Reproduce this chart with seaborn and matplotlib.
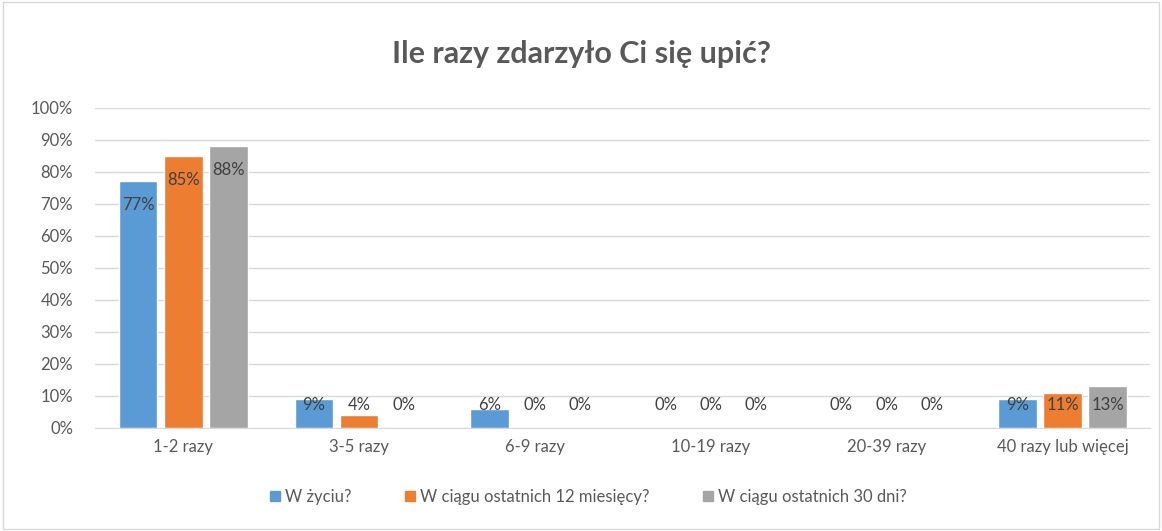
import pandas as pd
import numpy as np
import matplotlib.pyplot as plt
import seaborn as sns
from matplotlib.lines import Line2D

categories = ['1-2 razy', '3-5 razy', '6-9 razy', '10-19 razy', '20-39 razy', '40 razy lub więcej']
series = ['W życiu?', 'W ciągu ostatnich 12 miesięcy?', 'W ciągu ostatnich 30 dni?']
w_zyciu = [0.77, 0.09, 0.06, 0.0, 0.0, 0.09]
w_12_mies = [0.85, 0.04, 0.0, 0.0, 0.0, 0.11]
w_30_dni = [0.88, 0.0, 0.0, 0.0, 0.0, 0.13]
colors = ['#5B9BD5', '#ED7D31', '#A5A5A5']

df = pd.DataFrame({
    'kategoria': categories * 3,
    'seria': [series[0]] * 6 + [series[1]] * 6 + [series[2]] * 6,
    'wartosc': w_zyciu + w_12_mies + w_30_dni,
})

sns.set_style('white')
plt.rcParams['font.family'] = ['Lato', 'DejaVu Sans']
txt = '#595959'

fig = plt.figure(figsize=(11.62, 5.31), dpi=100)
ax = fig.add_axes([0.082, 0.194, 0.908, 0.603])
sns.barplot(data=df, x='kategoria', y='wartosc', hue='seria', palette=colors,
            saturation=1, width=0.77, gap=0.14, ax=ax, legend=False, zorder=3)

ax.set_ylim(0, 1.0)
ax.set_yticks(np.arange(0, 1.01, 0.1))
ax.set_yticklabels([f'{int(round(t * 100))}%' for t in np.arange(0, 1.01, 0.1)])
ax.grid(axis='y', color='#D9D9D9', linewidth=1, zorder=0)
ax.set_xlabel('')
ax.set_ylabel('')
for s in ['top', 'right', 'left']:
    ax.spines[s].set_visible(False)
ax.spines['bottom'].set_color('#D9D9D9')
ax.tick_params(axis='both', length=0, labelsize=12, colors=txt, pad=8)
ax.tick_params(axis='y', pad=16)

for cont in ax.containers:
    for bar in cont:
        h = bar.get_height()
        y = max(h - 0.075, 0.072)
        ax.text(bar.get_x() + bar.get_width() / 2, y, f'{int(round(h * 100))}%',
                ha='center', va='center', fontsize=12, color='#404040', zorder=4)

fig.suptitle('Ile razy zdarzyło Ci się upić?', x=0.5, y=0.925, fontsize=22,
             color=txt, fontweight='bold')

handles = [Line2D([0], [0], marker='s', linestyle='', markersize=7,
                  markerfacecolor=c, markeredgecolor=c) for c in colors]
fig.legend(handles, series, loc='center', bbox_to_anchor=(0.505, 0.064), ncol=3,
           frameon=False, fontsize=12, labelcolor=txt, handletextpad=0.1,
           columnspacing=3.0, handlelength=1.0)

fig.patches.append(plt.Rectangle((0.003, 0.003), 0.994, 0.994, transform=fig.transFigure,
                                 fill=False, edgecolor='#D9D9D9', linewidth=1))

plt.savefig('out.png', dpi=100)
